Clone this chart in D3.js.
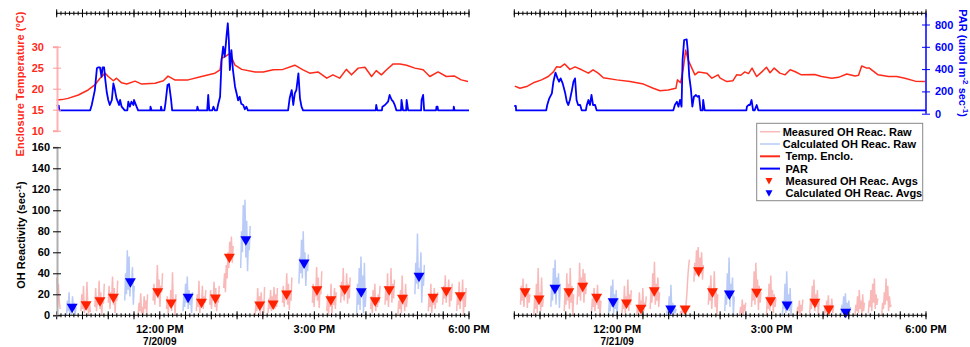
<!DOCTYPE html>
<meta charset="utf-8">
<style>
body { margin: 0; background: #fff; }
svg text { font-family: "Liberation Sans", Arial, Helvetica, sans-serif; font-weight: bold; font-size: 11px; }
.raw { fill: none; stroke-width: 1.5px; }
</style>
<body>
<script src="https://d3js.org/d3.v7.min.js"></script>
<script>

// ---- data (time = decimal hour of day) ----

// enclosure temperature, deg C
var temp1 = [[10.0,17.3],[10.1,17.4],[10.22,17.7],[10.42,18.5],[10.61,19.7],[10.74,20.9],[10.84,22.5],[10.94,23.7],
  [11.0,22.9],[11.1,21.9],[11.16,22.5],[11.26,21.4],[11.36,21.1],[11.52,21.8],[11.65,21.1],[11.91,21.3],[12.07,21.9],
  [12.16,23.0],[12.29,22.1],[12.55,22.1],[12.81,22.9],[13.07,23.7],[13.17,24.5],[13.2,27.2],[13.26,27.6],[13.36,28.4],
  [13.46,25.6],[13.59,24.6],[13.85,24.0],[14.01,24.0],[14.2,24.5],[14.39,24.6],[14.62,25.6],[14.78,24.5],[14.91,23.7],
  [15.07,24.0],[15.24,22.5],[15.36,23.3],[15.49,22.5],[15.62,24.6],[15.72,23.3],[15.85,24.9],[15.98,25.1],[16.11,22.9],
  [16.2,24.3],[16.3,23.3],[16.4,24.5],[16.53,25.9],[16.66,25.9],[16.79,25.6],[16.95,24.9],[17.11,24.5],[17.24,22.9],
  [17.4,24.0],[17.56,22.9],[17.72,23.0],[17.85,22.1],[17.98,21.7]];
var temp2 = [[10.01,20.6],[10.11,20.1],[10.24,20.5],[10.37,21.4],[10.53,22.1],[10.66,22.9],[10.76,24.0],[10.82,25.2],
  [10.89,25.1],[10.98,25.9],[11.08,24.6],[11.18,25.2],[11.31,24.5],[11.44,23.7],[11.53,24.5],[11.63,23.7],[11.73,22.6],
  [11.99,22.1],[12.25,21.7],[12.51,21.1],[12.7,20.1],[12.83,19.5],[12.99,19.7],[13.14,20.1],[13.17,22.1],[13.23,21.4],
  [13.28,24.5],[13.33,29.2],[13.38,26.8],[13.45,24.9],[13.51,23.3],[13.58,24.0],[13.74,23.7],[13.84,22.5],[13.96,23.3],
  [14.0,22.5],[14.13,21.7],[14.25,21.9],[14.32,23.3],[14.4,23.2],[14.48,24.0],[14.55,23.6],[14.62,24.9],[14.71,22.9],
  [14.81,24.0],[14.9,25.1],[14.97,23.8],[15.05,24.9],[15.16,23.7],[15.26,23.3],[15.36,24.5],[15.45,24.1],[15.58,23.3],
  [15.84,23.4],[15.97,22.9],[16.17,22.5],[16.3,22.7],[16.46,23.5],[16.62,23.0],[16.69,23.2],[16.75,25.4],[16.85,24.9],
  [16.9,24.9],[17.07,23.3],[17.27,22.9],[17.43,22.9],[17.59,22.5],[17.79,21.8],[17.98,21.7]];

// PAR, umol m-2 s-1
var par1 = [[10.0,72],[10.04,72],[10.05,30],[10.65,30],[10.68,78],[10.74,212],[10.78,407],[10.81,416],[10.84,416],
  [10.87,330],[10.89,416],[10.92,416],[10.94,317],[10.97,197],[11.0,123],[11.03,78],[11.07,123],[11.1,272],[11.13,212],
  [11.16,138],[11.21,78],[11.23,123],[11.26,63],[11.32,30],[11.37,30],[11.39,108],[11.42,63],[11.45,108],[11.49,78],
  [11.5,123],[11.55,63],[11.58,30],[11.815,30],[11.82,63],[11.84,30],[12.02,30],[12.025,63],[12.04,30],[12.09,30],
  [12.11,93],[12.15,257],[12.18,266],[12.22,123],[12.24,30],[12.72,30],[12.73,63],[12.75,30],[12.92,30],[12.94,168],
  [12.96,30],[13.02,30],[13.04,63],[13.07,30],[13.11,30],[13.13,78],[13.17,152],[13.2,482],[13.23,601],[13.26,511],
  [13.3,721],[13.32,811],[13.34,661],[13.36,392],[13.39,571],[13.42,392],[13.46,242],[13.49,183],[13.52,120],
  [13.55,152],[13.58,90],[13.62,78],[13.65,40],[13.68,63],[13.71,30],[14.49,30],[14.52,138],[14.56,212],[14.59,78],
  [14.62,183],[14.65,212],[14.69,362],[14.72,138],[14.75,63],[14.78,30],[16.19,30],[16.2,78],[16.22,30],[16.31,30],
  [16.32,63],[16.37,78],[16.43,108],[16.46,168],[16.5,123],[16.53,108],[16.56,78],[16.59,30],[16.68,30],[16.69,123],
  [16.72,30],[16.78,30],[16.79,123],[16.82,30],[17.07,30],[17.08,123],[17.11,168],[17.13,30],[17.36,30],[17.37,63],
  [17.39,63],[17.4,30],[17.7,30],[17.705,63],[17.72,30],[18.0,30]];
var par2 = [[10.0,69],[10.03,69],[10.035,30],[10.62,30],[10.64,78],[10.68,138],[10.73,183],[10.76,287],[10.8,368],
  [10.84,317],[10.87,287],[10.9,317],[10.94,272],[10.99,183],[11.02,108],[11.05,78],[11.08,123],[11.12,212],[11.15,287],
  [11.18,317],[11.21,123],[11.24,78],[11.28,78],[11.31,30],[11.39,30],[11.41,78],[11.44,123],[11.47,78],[11.5,168],
  [11.53,78],[11.57,78],[11.6,30],[13.09,30],[13.12,78],[13.16,108],[13.19,63],[13.22,123],[13.25,63],[13.27,482],
  [13.3,661],[13.35,667],[13.37,571],[13.4,332],[13.43,228],[13.46,63],[13.49,152],[13.53,168],[13.56,152],[13.59,160],
  [13.62,30],[13.66,30],[13.67,123],[13.7,30],[14.51,30],[14.52,63],[14.55,78],[14.58,78],[14.61,123],[14.64,30],
  [14.67,30],[14.71,78],[14.74,30],[18.0,30]];

// raw OH reactivity bursts: [start hour, values at 1-minute steps], sec-1
var measRaw1 = [
  [10.00,[36,8,30,14,6]],
  [10.47,[4,20,6,28,2,14,5,32,9,0,12,3]],
  [10.74,[8,26,4,18,10,33,6,22,0,15,11,30]],
  [11.00,[12,28,6,22,16,37,10,26,2,20,14,33]],
  [11.58,[0,12,4,21,2,8,0,18,6,14,1,20]],
  [11.87,[14,30,10,26,20,48,16,34,8,28,22,40]],
  [12.13,[6,18,2,14,8,24,4,41,10,16,0,20]],
  [12.71,[4,20,8,33,2,14,10,28,6,18,12,24]],
  [12.97,[10,24,6,20,14,32,8,26,4,18,12,28]],
  [13.24,[26,40,22,48,35,60,45,70,55,75,50,66]],
  [13.85,[0,12,4,26,6,18,0,22,8,14,2,27]],
  [14.10,[2,16,6,24,4,18,10,27,6,20,8,26]],
  [14.38,[12,28,8,22,16,40,10,30,5,24,14,36]],
  [14.96,[12,30,8,24,18,46,14,36,7,28,20,42]],
  [15.24,[4,20,0,14,8,30,2,18,10,26,6,22]],
  [15.51,[12,32,18,45,14,28,22,40,11,30,16,36]],
  [16.09,[6,18,2,24,10,30,4,16,8,20,12,28]],
  [16.37,[10,28,14,40,8,24,20,45,12,30,16,34]],
  [16.62,[0,14,6,24,2,38,10,20,4,30,8,18]],
  [17.21,[4,20,8,30,2,16,10,26,6,18,12,22]],
  [17.49,[10,28,16,38,12,24,20,34,8,26,14,30]],
  [17.76,[4,18,10,32,6,22,14,34,0,20,8,26]]];
var calcRaw1 = [
  [10.19,[0,14,4,22,2,10,0,18,6,12,0,8]],
  [11.32,[14,40,20,62,24,56,18,34,30,46,10,28]],
  [12.45,[4,20,8,30,12,37,6,24,10,18,2,22]],
  [13.57,[45,80,60,105,70,110,55,90,42,75,62,85]],
  [14.70,[30,55,40,72,35,80,45,60,28,50,42,58]],
  [15.82,[0,30,10,45,5,56,20,38,2,50,8,24]],
  [16.95,[20,50,30,78,25,45,35,60,12,40,28,48]]];
var measRaw2 = [
  [10.12,[10,28,14,35,8,22,18,30,7,26,12,20]],
  [10.38,[0,18,6,30,2,45,10,22,4,36,8,16]],
  [10.97,[4,24,10,40,14,30,6,45,12,28,0,20]],
  [11.22,[10,30,18,50,14,36,22,44,12,40,20,32]],
  [11.50,[2,16,8,26,4,20,10,29,6,18,0,14]],
  [12.09,[0,14,6,28,2,18,8,34,4,20,10,24]],
  [12.38,[0,10,2,22,6,14,0,26,4,12,8,18]],
  [12.64,[6,24,12,40,18,51,10,30,14,36,8,22]],
  [13.22,[0,4,0,8,2,6,0,10,20,35,46,53]],
  [13.49,[32,50,38,62,44,65,36,55,40,60,34,48]],
  [13.77,[10,28,14,38,6,24,18,42,8,26,0,20]],
  [14.38,[0,8,2,15,0,10,4,12]],
  [14.61,[8,26,14,42,10,50,18,34,5,28,12,22]],
  [14.90,[0,18,6,30,4,38,10,24,2,20,8,16]],
  [15.49,[0,8,2,14,0,10,4,15]],
  [15.74,[2,16,6,28,10,34,4,20,8,24,0,14]],
  [16.02,[0,8,2,14,4,19,0,10,6,16,2,8]],
  [16.62,[0,10,4,18,2,24,6,14,0,20,4,12]],
  [16.88,[2,14,8,24,4,30,12,35,6,20,10,16]],
  [17.14,[0,12,6,22,10,35,14,28,4,18,8,10]]];
var calcRaw2 = [
  [10.71,[8,28,14,45,20,53,10,36,24,40,7,30]],
  [11.83,[0,14,4,28,8,34,2,20,6,24,0,16]],
  [12.96,[0,6,2,18,0,29,4,12,0,10,2,6]],
  [14.09,[4,24,10,40,16,55,8,30,20,36,0,18]],
  [15.21,[0,14,6,30,2,42,10,20,4,26,0,12]],
  [16.35,[0,10,4,18,2,21,6,12,0,14,2,8]]];

// averaged OH reactivity, sec-1
var measAvg1 = [[10.57,9.2],[10.84,13],[11.10,16.2],[11.96,21.5],[12.22,10.8],[12.81,11.4],[13.08,15.5],[13.35,54.3],
  [13.94,8.9],[14.20,9.8],[14.46,19.3],[15.05,23.4],[15.32,13.9],[15.59,24.1],[16.18,13],[16.45,23.4],[16.71,15.2],
  [17.30,16.2],[17.56,22.5],[17.83,17.7]];
var calcAvg1 = [[10.30,6.7],[11.43,31],[12.55,16.2],[13.67,71],[14.80,48.9],[15.91,21.5],[17.03,36.2]];
var measAvg2 = [[10.21,21.5],[10.48,14.6],[11.06,21.5],[11.33,26.7],[11.60,16.2],[12.18,10.8],[12.46,5.7],[12.72,22.5],
  [13.32,5],[13.58,41.5],[13.85,21.5],[14.71,21],[14.98,13],[15.84,11.4],[16.11,5]];
var calcAvg2 = [[10.79,24.8],[11.92,12],[13.04,5],[14.18,19.3],[15.30,8.9],[16.44,1.9]];

var tempTicks = [10, 15, 20, 25, 30];
var parTicks = [0, 200, 400, 600, 800];
var ohTicks = [0, 20, 40, 60, 80, 100, 120, 140, 160];
var timeLabels = [[12, "12:00 PM"], [15, "3:00 PM"], [18, "6:00 PM"]];
var dayLabels = ["7/20/09", "7/21/09"];
var legendItems = [
  ["Measured OH Reac. Raw", "line", "#f9b9b9"],
  ["Calculated OH Reac. Raw", "line", "#b9cbf6"],
  ["Temp. Enclo.", "line", "#ff2a1a"],
  ["PAR", "line", "#0000ff"],
  ["Measured OH Reac. Avgs", "tri", "#ff2200"],
  ["Calculated OH Reac. Avgs", "tri", "#0000ff"]];

// ---- setup ----
var RED = "#ff2a1a", BLUE = "#0000ff", PINK = "#f9b9b9", LBLUE = "#b9cbf6";

var svg = d3.select("body").append("svg")
  .attr("width", 970)
  .attr("height", 347);

var x1 = d3.scaleLinear().domain([10, 18]).range([56.7, 469]);
var x2 = d3.scaleLinear().domain([10, 18]).range([514.3, 926]);
var yT = d3.scaleLinear().domain([10, 30]).range([130.7, 46.7]);
var yP = d3.scaleLinear().domain([0, 800]).range([113.7, 24.5]);
var yOH = d3.scaleLinear().domain([0, 160]).range([315.3, 147.3]);

// raw bursts
function drawRaw(bursts, x, color) {
  var line = d3.line()
    .x(function(d) { return x(d[0]); })
    .y(function(d) { return yOH(d[1]); });
  bursts.forEach(function(b) {
    var pts = b[1].map(function(v, i) { return [b[0] + i / 60, v]; });
    svg.append("path").datum(pts).attr("class", "raw").attr("stroke", color).attr("d", line);
  });
}
drawRaw(measRaw1, x1, PINK);
drawRaw(calcRaw1, x1, LBLUE);
drawRaw(measRaw2, x2, PINK);
drawRaw(calcRaw2, x2, LBLUE);

// triangles
var tri = "M-5.5,-4.5L5.5,-4.5L0,5Z";
function drawTri(data, x, color) {
  svg.append("g").selectAll("path").data(data).join("path")
    .attr("d", tri)
    .attr("fill", color)
    .attr("transform", function(d) { return "translate(" + x(d[0]) + "," + yOH(d[1]) + ")"; });
}
drawTri(measAvg1, x1, "#ff2200");
drawTri(calcAvg1, x1, BLUE);
drawTri(measAvg2, x2, "#ff2200");
drawTri(calcAvg2, x2, BLUE);

// temperature and PAR lines
function drawLine(data, x, y, color, w) {
  svg.append("path").datum(data)
    .attr("fill", "none").attr("stroke", color).attr("stroke-width", w)
    .attr("stroke-linejoin", "round")
    .attr("d", d3.line().x(function(d) { return x(d[0]); }).y(function(d) { return y(d[1]); }));
}
drawLine(temp1, x1, yT, RED, 1.5);
drawLine(temp2, x2, yT, RED, 1.5);
drawLine(par1, x1, yP, BLUE, 1.8);
drawLine(par2, x2, yP, BLUE, 1.8);

// ---- time axes ----
var minor = d3.range(0, 97).map(function(i) { return 10 + i / 12; });
var major = d3.range(0, 17).map(function(i) { return 10 + i / 2; });

function timeAxis(x, y) {
  var g = svg.append("g").attr("stroke", "#000").attr("stroke-width", 1);
  g.append("line").attr("x1", x(10)).attr("x2", x(18)).attr("y1", y).attr("y2", y);
  g.selectAll(".mn").data(minor).join("line")
    .attr("x1", function(d) { return x(d); }).attr("x2", function(d) { return x(d); })
    .attr("y1", y - 2).attr("y2", y + 2);
  g.selectAll(".mj").data(major).join("line")
    .attr("x1", function(d) { return x(d); }).attr("x2", function(d) { return x(d); })
    .attr("y1", y - 4).attr("y2", y + 4);
  return g;
}
[x1, x2].forEach(function(x, k) {
  timeAxis(x, 13.3);
  timeAxis(x, 315.3);
  svg.append("g").selectAll("text").data(timeLabels).join("text")
    .attr("x", function(d) { return x(d[0]); })
    .attr("y", 333.3)
    .attr("text-anchor", "middle")
    .text(function(d) { return d[1]; });
  svg.append("text").attr("x", x(12)).attr("y", 344.8)
    .attr("text-anchor", "middle").style("font-size", "10px").text(dayLabels[k]);
});

// ---- value axes ----
function styleAxis(g, lineColor, tickColor, textColor, w) {
  g.attr("font-size", 11).attr("font-family", null);
  g.select(".domain").attr("stroke", lineColor).attr("stroke-width", w);
  g.selectAll(".tick line").attr("stroke", tickColor);
  g.selectAll(".tick text").attr("fill", textColor);
}

var gT = svg.append("g").attr("transform", "translate(57,0)")
  .call(d3.axisLeft(yT).tickValues(tempTicks).tickSizeOuter(0).tickSize(4).tickPadding(9));
gT.selectAll(".tick line").attr("x1", 4);
styleAxis(gT, "#ffb4b4", "#ff9a9a", RED, 2);

var gO = svg.append("g").attr("transform", "translate(57,0)")
  .call(d3.axisLeft(yOH).tickValues(ohTicks).tickSizeOuter(0).tickSize(4).tickPadding(3));
gO.selectAll(".tick line").attr("x1", 4);
styleAxis(gO, "#b0b0b0", "#000", "#000", 2);

var gP = svg.append("g").attr("transform", "translate(926,0)")
  .call(d3.axisRight(yP).tickValues(parTicks).tickSizeOuter(0).tickSize(4).tickPadding(5));
gP.selectAll(".tick line").attr("x1", -4);
gP.select(".domain").attr("d", "M0," + yP(0) + "V13.3");
styleAxis(gP, BLUE, BLUE, BLUE, 1.5);

// ---- axis titles ----
svg.append("text")
  .attr("transform", "translate(24,84) rotate(-90)")
  .attr("text-anchor", "middle").attr("fill", RED)
  .text("Enclosure Temperature (°C)");

var tOH = svg.append("text")
  .attr("transform", "translate(25,235) rotate(-90)")
  .attr("text-anchor", "middle").attr("fill", "#000");
tOH.append("tspan").text("OH Reactivity (sec");
tOH.append("tspan").attr("dy", -4).attr("font-size", 8).text("-1");
tOH.append("tspan").attr("dy", 4).text(")");

var tP = svg.append("text")
  .attr("transform", "translate(959,63) rotate(90)")
  .attr("text-anchor", "middle").attr("fill", BLUE);
tP.append("tspan").text("PAR (umol m");
tP.append("tspan").attr("dy", -4).attr("font-size", 8).text("-2");
tP.append("tspan").attr("dy", 4).text(" sec");
tP.append("tspan").attr("dy", -4).attr("font-size", 8).text("-1");
tP.append("tspan").attr("dy", 4).text(")");

// ---- legend ----
var lg = svg.append("g");
lg.append("rect").attr("x", 756.7).attr("y", 123.3).attr("width", 166).attr("height", 77.4)
  .attr("fill", "#fff").attr("stroke", "#888").attr("stroke-width", 1);
legendItems.forEach(function(d, i) {
  var cy = 131.7 + i * 12.3;
  if (d[1] == "line") {
    lg.append("line").attr("x1", 760).attr("x2", 780).attr("y1", cy).attr("y2", cy)
      .attr("stroke", d[2]).attr("stroke-width", i < 2 ? 1.5 : 2);
  } else {
    lg.append("path").attr("d", "M-3.5,-3L3.5,-3L0,3.5Z").attr("fill", d[2])
      .attr("transform", "translate(769," + cy + ")");
  }
  lg.append("text").attr("x", i < 2 ? 782.7 : 785.5).attr("y", cy + 4).text(d[0]);
});

</script>
</body>
